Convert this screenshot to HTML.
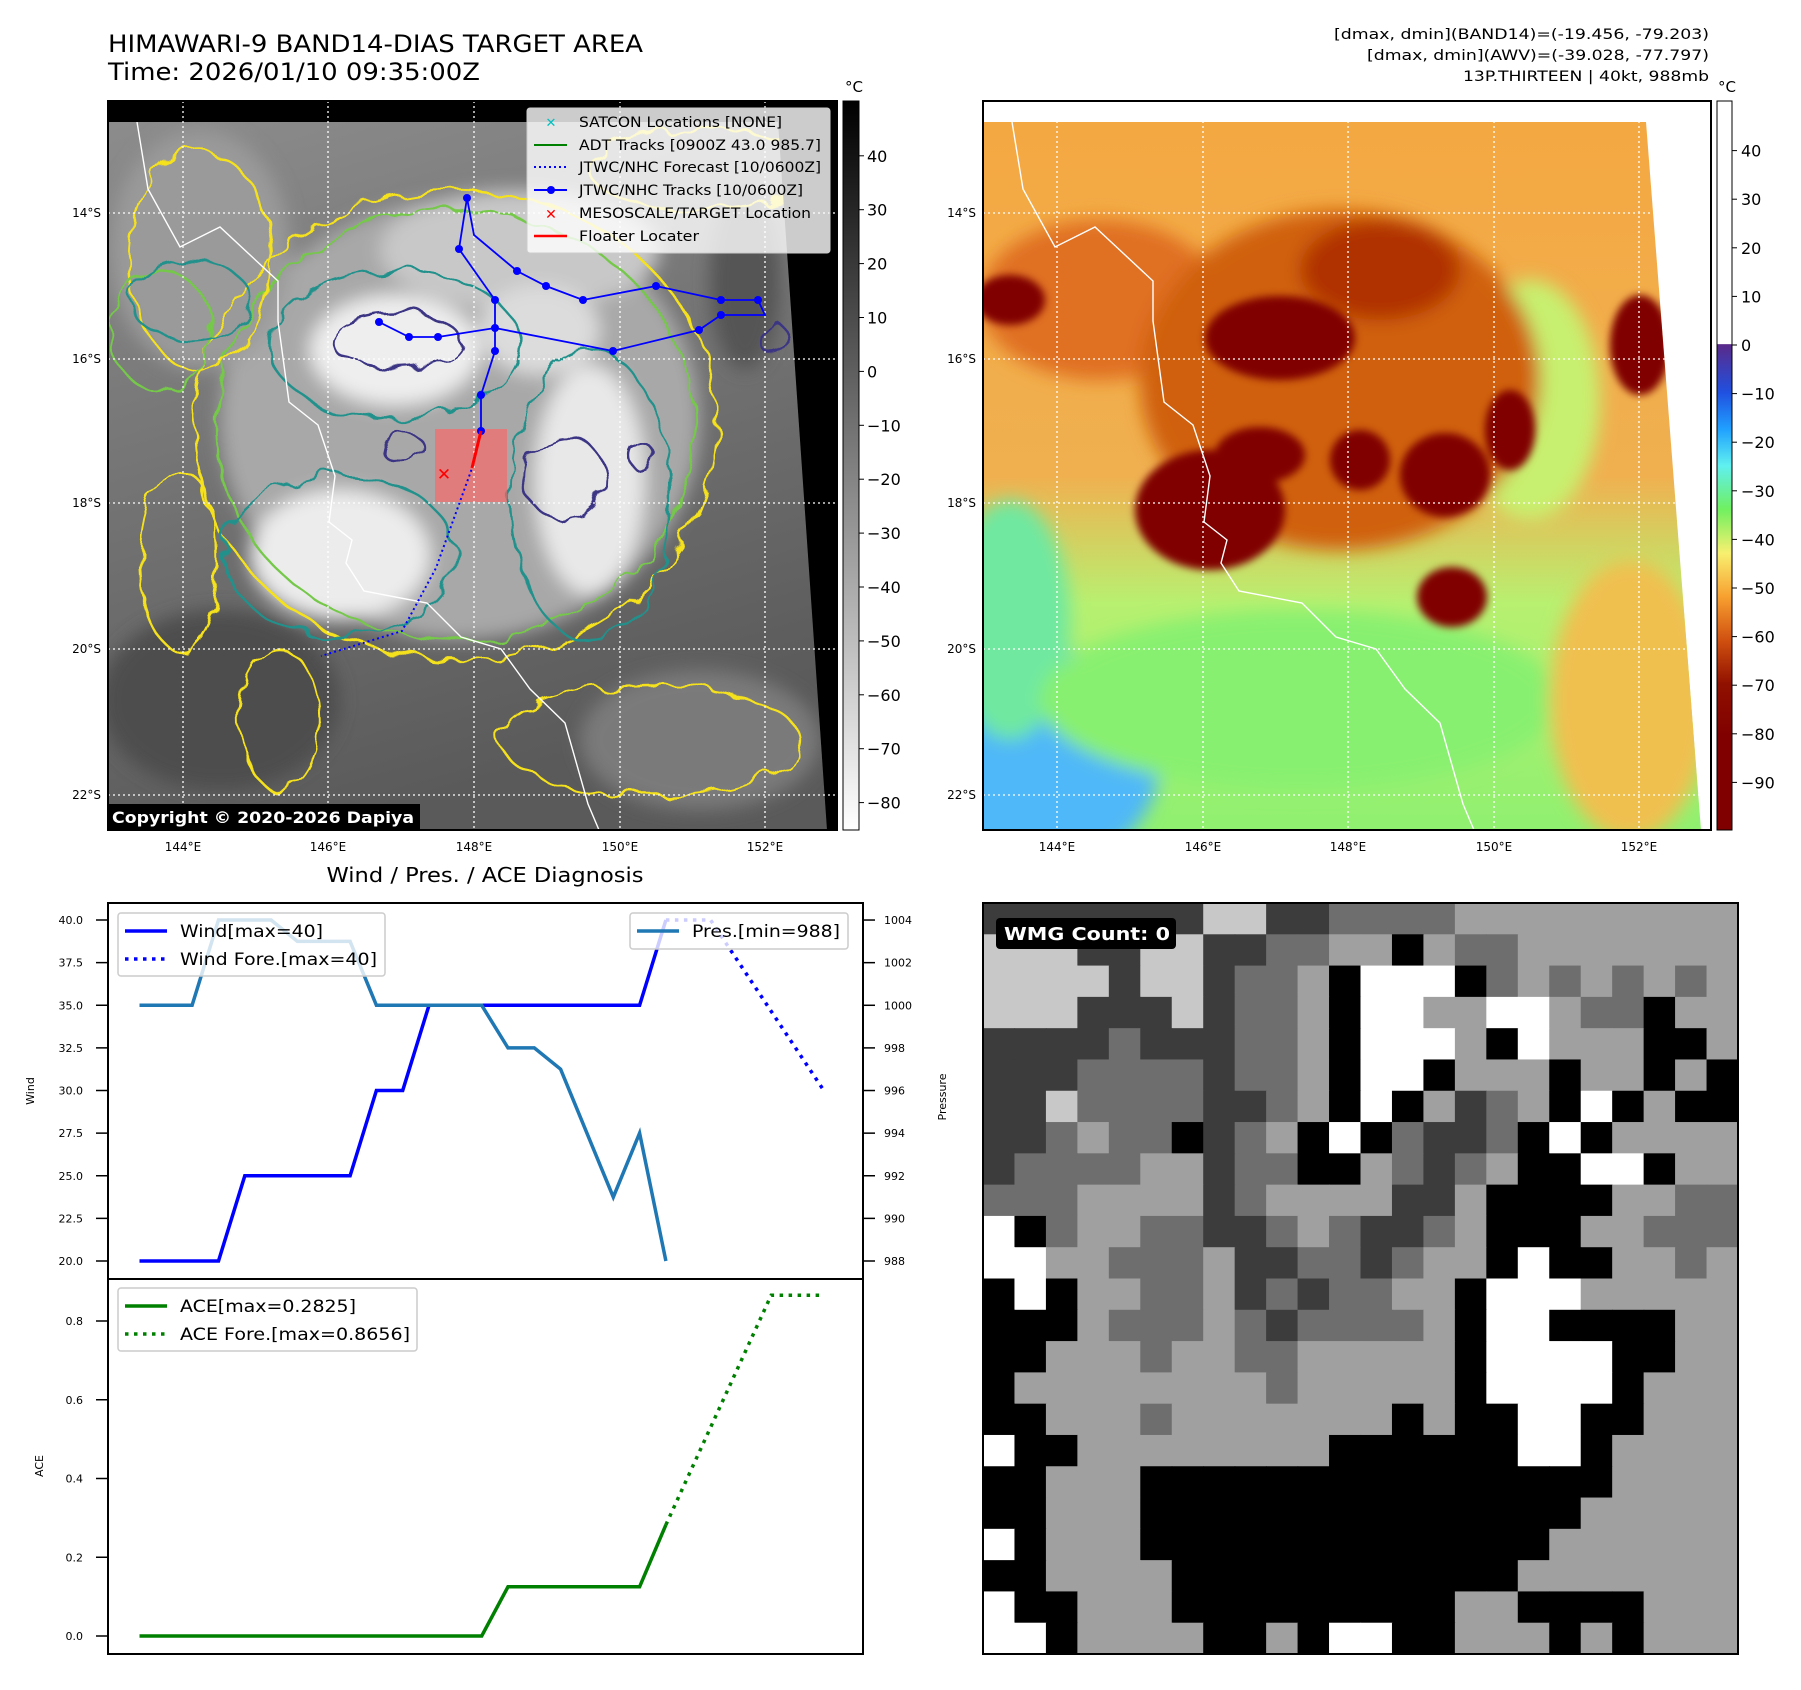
<!DOCTYPE html>
<html><head><meta charset="utf-8"><style>
html,body{margin:0;padding:0;background:#fff;}
svg{display:block;font-family:"DejaVu Sans","Liberation Sans",sans-serif;}
</style></head><body>
<svg id="fig" width="1801" height="1690" viewBox="0 0 1801 1690" xmlns="http://www.w3.org/2000/svg">
<defs>
<filter id="blur" x="-20%" y="-20%" width="140%" height="140%"><feGaussianBlur stdDeviation="9"/></filter>
<filter id="blur2"><feGaussianBlur stdDeviation="4"/></filter>
<filter id="wig" x="-10%" y="-10%" width="120%" height="120%"><feTurbulence type="fractalNoise" baseFrequency="0.035" numOctaves="2" seed="3"/><feDisplacementMap in="SourceGraphic" scale="22"/></filter>
<filter id="wig2" x="-10%" y="-10%" width="120%" height="120%"><feTurbulence type="fractalNoise" baseFrequency="0.05" numOctaves="3" seed="7"/><feDisplacementMap in="SourceGraphic" scale="30"/></filter>
<clipPath id="clipL"><path d="M108,122 L778,122 L827,830 L108,830 Z"/></clipPath>
<clipPath id="clipR"><path d="M983,122 L1646,122 L1701,830 L983,830 Z"/></clipPath>
<linearGradient id="cbL" x1="0" y1="0" x2="0" y2="1"><stop offset="0" stop-color="#000"/><stop offset="1" stop-color="#fff"/></linearGradient>
<linearGradient id="cbR" x1="0" y1="0" x2="0" y2="1">
<stop offset="0" stop-color="#fff"/><stop offset="0.333" stop-color="#fff"/><stop offset="0.334" stop-color="#5a2a8a"/>
<stop offset="0.4" stop-color="#2050e0"/><stop offset="0.45" stop-color="#20a0ff"/><stop offset="0.5" stop-color="#60f0f0"/>
<stop offset="0.56" stop-color="#70f060"/><stop offset="0.62" stop-color="#f8f070"/><stop offset="0.68" stop-color="#f8a030"/>
<stop offset="0.74" stop-color="#d05010"/><stop offset="0.8" stop-color="#901000"/><stop offset="0.87" stop-color="#800000"/><stop offset="1" stop-color="#800000"/></linearGradient>
<linearGradient id="grayBase" x1="0" y1="0" x2="0.3" y2="1"><stop offset="0" stop-color="#8c8c8c"/><stop offset="1" stop-color="#5a5a5a"/></linearGradient>
<linearGradient id="colBase" x1="0" y1="0" x2="0" y2="1"><stop offset="0" stop-color="#f4a842"/><stop offset="0.5" stop-color="#f0b050"/><stop offset="0.68" stop-color="#b8f070"/><stop offset="1" stop-color="#90f070"/></linearGradient>
</defs>

<!-- Titles -->
<text x="108" y="52" font-size="24" textLength="535" lengthAdjust="spacingAndGlyphs">HIMAWARI-9 BAND14-DIAS TARGET AREA</text>
<text x="108" y="80" font-size="24" textLength="372" lengthAdjust="spacingAndGlyphs">Time: 2026/01/10 09:35:00Z</text>
<g font-size="14.5" text-anchor="end">
<text x="1709" y="39" textLength="375" lengthAdjust="spacingAndGlyphs">[dmax, dmin](BAND14)=(-19.456, -79.203)</text>
<text x="1709" y="60" textLength="342" lengthAdjust="spacingAndGlyphs">[dmax, dmin](AWV)=(-39.028, -77.797)</text>
<text x="1709" y="81" textLength="246" lengthAdjust="spacingAndGlyphs">13P.THIRTEEN | 40kt, 988mb</text>
</g>

<!-- LEFT MAP -->
<g>
<rect x="108" y="101" width="729" height="729" fill="#000"/>
<g clip-path="url(#clipL)">
<rect x="108" y="122" width="729" height="708" fill="url(#grayBase)"/>
<g filter="url(#blur)">
<ellipse cx="460" cy="420" rx="240" ry="220" fill="#a8a8a8"/>
<ellipse cx="200" cy="250" rx="90" ry="120" fill="#9a9a9a"/>
<ellipse cx="520" cy="250" rx="140" ry="60" fill="#c8c8c8"/>
<ellipse cx="395" cy="350" rx="85" ry="55" fill="#eeeeee"/>
<ellipse cx="340" cy="555" rx="90" ry="65" fill="#ececec"/>
<ellipse cx="590" cy="480" rx="55" ry="115" fill="#e8e8e8"/>
<ellipse cx="540" cy="330" rx="60" ry="45" fill="#dcdcdc"/>
<ellipse cx="745" cy="280" rx="35" ry="90" fill="#555"/>
<ellipse cx="220" cy="700" rx="120" ry="90" fill="#4e4e4e"/>
<ellipse cx="700" cy="740" rx="120" ry="70" fill="#7a7a7a"/>
</g>
<g filter="url(#wig)" fill="none" stroke-width="2.4">
<ellipse cx="455" cy="425" rx="262" ry="235" stroke="#f6e21e"/>
<ellipse cx="455" cy="425" rx="240" ry="215" stroke="#74c84a"/>
<ellipse cx="200" cy="260" rx="70" ry="110" stroke="#f6e21e"/>
<ellipse cx="180" cy="560" rx="40" ry="90" stroke="#f6e21e"/>
<ellipse cx="700" cy="170" rx="110" ry="40" stroke="#f6e21e"/>
<ellipse cx="650" cy="740" rx="150" ry="55" stroke="#f6e21e"/>
<ellipse cx="280" cy="720" rx="40" ry="70" stroke="#f6e21e"/>
<ellipse cx="160" cy="330" rx="50" ry="60" stroke="#74c84a"/>
<ellipse cx="395" cy="345" rx="125" ry="75" stroke="#21918c"/>
<ellipse cx="340" cy="555" rx="115" ry="80" stroke="#21918c"/>
<ellipse cx="590" cy="495" rx="80" ry="145" stroke="#21918c"/>
<ellipse cx="190" cy="300" rx="60" ry="40" stroke="#21918c"/>
<ellipse cx="395" cy="340" rx="65" ry="28" stroke="#3b3584"/>
<ellipse cx="565" cy="478" rx="40" ry="42" stroke="#3b3584"/>
<ellipse cx="402" cy="447" rx="22" ry="14" stroke="#3b3584"/>
<ellipse cx="640" cy="455" rx="12" ry="14" stroke="#3b3584"/>
<ellipse cx="773" cy="338" rx="14" ry="16" stroke="#3b3584"/>
</g>
<path fill="none" stroke="#fff" stroke-width="1.4" transform="translate(-875,0)" d="M1012,122 L1023,189 L1055,247 L1095,227 L1153,281 L1153,321 L1164,402 L1193,425 L1210,476 L1204,522 L1227,540 L1221,563 L1239,591 L1302,603 L1336,637 L1376,649 L1405,689 L1440,723 L1463,804 L1474,830"/>
<rect x="435" y="429" width="72" height="73" fill="#ff6464" fill-opacity="0.65"/>
</g>
<g stroke="#fff" stroke-width="1.3" stroke-dasharray="2,3">
<line x1="108" y1="213" x2="837" y2="213"/><line x1="108" y1="359" x2="837" y2="359"/><line x1="108" y1="503" x2="837" y2="503"/><line x1="108" y1="649" x2="837" y2="649"/><line x1="108" y1="795" x2="837" y2="795"/>
<line x1="183" y1="101" x2="183" y2="830"/><line x1="328" y1="101" x2="328" y2="830"/><line x1="474" y1="101" x2="474" y2="830"/><line x1="620" y1="101" x2="620" y2="830"/><line x1="765" y1="101" x2="765" y2="830"/>
</g>
<g>
<polyline fill="none" stroke="#0000ff" stroke-width="1.8" points="379,322 409,337 438,337 495,328 613,351 699,330 721,315 765,315 758,300 721,300 656,286 583,300 546,286 517,271 474,235 467,198 459,249 495,300 495,328 495,351 481,395 481,431"/>
<g fill="#0000ff"><circle cx="379" cy="322" r="4"/><circle cx="409" cy="337" r="4"/><circle cx="438" cy="337" r="4"/><circle cx="495" cy="328" r="4"/><circle cx="613" cy="351" r="4"/><circle cx="699" cy="330" r="4"/><circle cx="721" cy="315" r="4"/><circle cx="758" cy="300" r="4"/><circle cx="721" cy="300" r="4"/><circle cx="656" cy="286" r="4"/><circle cx="583" cy="300" r="4"/><circle cx="546" cy="286" r="4"/><circle cx="517" cy="271" r="4"/><circle cx="467" cy="198" r="4"/><circle cx="459" cy="249" r="4"/><circle cx="495" cy="300" r="4"/><circle cx="495" cy="351" r="4"/><circle cx="481" cy="395" r="4"/><circle cx="481" cy="431" r="4"/></g>
</g>
<polyline fill="none" stroke="#0000ff" stroke-width="2" stroke-dasharray="2,3" points="481,431 471,471 436,568 402,631 321,656"/>
<line x1="481" y1="431" x2="472" y2="468" stroke="#ff0000" stroke-width="3"/>
<text x="444" y="480" font-size="17" font-weight="bold" fill="#ff0000" text-anchor="middle">✕</text>
<rect x="108" y="101" width="729" height="729" fill="none" stroke="#000" stroke-width="2"/>
<g font-size="14">
<rect x="527" y="108" width="303" height="145" rx="3" fill="#fff" fill-opacity="0.8" stroke="#ccc"/>
<text x="551" y="127" fill="#00c0c0" font-size="13" text-anchor="middle" font-weight="bold">✕</text>
<line x1="534" y1="145" x2="567" y2="145" stroke="#008000" stroke-width="2"/>
<line x1="534" y1="167" x2="567" y2="167" stroke="#0000ff" stroke-width="2" stroke-dasharray="2,3"/>
<line x1="534" y1="190" x2="567" y2="190" stroke="#0000ff" stroke-width="2"/><circle cx="551" cy="190" r="4" fill="#0000ff"/>
<text x="551" y="219" fill="#ff0000" font-size="14" text-anchor="middle" font-weight="bold">✕</text>
<line x1="534" y1="236" x2="567" y2="236" stroke="#ff0000" stroke-width="2.5"/>
<text x="579" y="127" textLength="203" lengthAdjust="spacingAndGlyphs">SATCON Locations [NONE]</text>
<text x="579" y="150" textLength="242" lengthAdjust="spacingAndGlyphs">ADT Tracks [0900Z 43.0 985.7]</text>
<text x="579" y="172" textLength="242" lengthAdjust="spacingAndGlyphs">JTWC/NHC Forecast [10/0600Z]</text>
<text x="579" y="195" textLength="224" lengthAdjust="spacingAndGlyphs">JTWC/NHC Tracks [10/0600Z]</text>
<text x="579" y="218" textLength="232" lengthAdjust="spacingAndGlyphs">MESOSCALE/TARGET Location</text>
<text x="579" y="241" textLength="120" lengthAdjust="spacingAndGlyphs">Floater Locater</text>
</g>
<g>
<rect x="108" y="804" width="312" height="26" fill="#000"/>
<text x="112" y="823" fill="#fff" font-size="16" font-weight="bold" textLength="302" lengthAdjust="spacingAndGlyphs">Copyright © 2020-2026 Dapiya</text>
</g>
</g>
<g font-size="12" text-anchor="end">
<text x="101" y="217">14°S</text><text x="101" y="363">16°S</text><text x="101" y="507">18°S</text><text x="101" y="653">20°S</text><text x="101" y="799">22°S</text>
</g>
<g font-size="12" text-anchor="middle">
<text x="183" y="851">144°E</text><text x="328" y="851">146°E</text><text x="474" y="851">148°E</text><text x="620" y="851">150°E</text><text x="765" y="851">152°E</text>
</g>
<g>
<rect x="843" y="101" width="16" height="729" fill="url(#cbL)" stroke="#000" stroke-width="1"/>
<text x="854" y="92" font-size="15" text-anchor="middle">°C</text>
<g font-size="16" id="cbLticks"></g>
</g>

<!-- RIGHT MAP -->
<g>
<rect x="983" y="101" width="728" height="729" fill="#fff"/>
<g clip-path="url(#clipR)">
<rect x="983" y="122" width="728" height="708" fill="url(#colBase)"/>
<g filter="url(#blur)">
<ellipse cx="1040" cy="760" rx="120" ry="110" fill="#50b8f8"/>
<ellipse cx="1010" cy="620" rx="60" ry="120" fill="#70e8a0"/>
<ellipse cx="1300" cy="700" rx="260" ry="90" fill="#88f070"/>
<ellipse cx="1630" cy="700" rx="80" ry="140" fill="#f0c050"/>
<ellipse cx="1530" cy="400" rx="70" ry="120" fill="#c8f070"/>
<ellipse cx="1100" cy="300" rx="120" ry="80" fill="#e07020"/>
<ellipse cx="1340" cy="380" rx="200" ry="170" fill="#d06010"/>
<ellipse cx="1380" cy="270" rx="80" ry="50" fill="#b03000"/>
</g>
<g filter="url(#blur2)" fill="#800000">
<ellipse cx="1280" cy="338" rx="75" ry="42"/>
<ellipse cx="1210" cy="510" rx="75" ry="60"/>
<ellipse cx="1260" cy="455" rx="45" ry="28"/>
<ellipse cx="1445" cy="475" rx="45" ry="42"/>
<ellipse cx="1452" cy="597" rx="35" ry="30"/>
<ellipse cx="1640" cy="345" rx="30" ry="50"/>
<ellipse cx="1510" cy="430" rx="25" ry="40"/>
<ellipse cx="1360" cy="460" rx="30" ry="30"/>
<ellipse cx="1010" cy="300" rx="35" ry="25"/>
</g>
<path fill="none" stroke="#fff" stroke-width="1.4" d="M1012,122 L1023,189 L1055,247 L1095,227 L1153,281 L1153,321 L1164,402 L1193,425 L1210,476 L1204,522 L1227,540 L1221,563 L1239,591 L1302,603 L1336,637 L1376,649 L1405,689 L1440,723 L1463,804 L1474,830"/>
</g>
<g stroke="#fff" stroke-width="1.3" stroke-dasharray="2,3">
<line x1="983" y1="213" x2="1711" y2="213"/><line x1="983" y1="359" x2="1711" y2="359"/><line x1="983" y1="503" x2="1711" y2="503"/><line x1="983" y1="649" x2="1711" y2="649"/><line x1="983" y1="795" x2="1711" y2="795"/>
<line x1="1057" y1="101" x2="1057" y2="830"/><line x1="1203" y1="101" x2="1203" y2="830"/><line x1="1348" y1="101" x2="1348" y2="830"/><line x1="1494" y1="101" x2="1494" y2="830"/><line x1="1639" y1="101" x2="1639" y2="830"/>
</g>
<rect x="983" y="101" width="728" height="729" fill="none" stroke="#000" stroke-width="2"/>
</g>
<g font-size="12" text-anchor="end">
<text x="976" y="217">14°S</text><text x="976" y="363">16°S</text><text x="976" y="507">18°S</text><text x="976" y="653">20°S</text><text x="976" y="799">22°S</text>
</g>
<g font-size="12" text-anchor="middle">
<text x="1057" y="851">144°E</text><text x="1203" y="851">146°E</text><text x="1348" y="851">148°E</text><text x="1494" y="851">150°E</text><text x="1639" y="851">152°E</text>
</g>
<g>
<rect x="1717" y="101" width="15" height="729" fill="url(#cbR)" stroke="#000" stroke-width="1"/>
<text x="1727" y="92" font-size="15" text-anchor="middle">°C</text>
<g font-size="16" id="cbRticks"></g>
</g>

<!-- BOTTOM LEFT CHART -->
<text x="485" y="882" font-size="20" text-anchor="middle" textLength="317" lengthAdjust="spacingAndGlyphs">Wind / Pres. / ACE Diagnosis</text>
<g id="chart"></g>
<text x="0" y="0" font-size="11" text-anchor="middle" transform="translate(34,1091) rotate(-90)">Wind</text>
<text x="0" y="0" font-size="11" text-anchor="middle" transform="translate(946,1097) rotate(-90)">Pressure</text>
<text x="0" y="0" font-size="11" text-anchor="middle" transform="translate(43,1466) rotate(-90)">ACE</text>

<!-- BOTTOM RIGHT WMG -->
<g id="wmg"></g>
</svg>
<script>
// ---- chart data ----
const windX = [0,1,2,3,4,5,6,7,8,9,10,11,12,13,14,15,16,17,18,19,20];
const windValues = [20,20,20,20,25,25,25,25,25,30,30,35,35,35,35,35,35,35,35,35,40];
const windForeX = [20,21.7,26];
const windForeValues = [40,40,30];
const presValues = [1000,1000,1000,1004,1004,1004,1003,1003,1003,1000,1000,1000,1000,1000,998,998,997,994,991,994,988];
const aceValues = [0,0,0,0,0,0,0,0,0,0,0,0,0,0,0.125,0.125,0.125,0.125,0.125,0.125,0.2825];
const aceForeX = [20,24,26];
const aceForeValues = [0.2825,0.8656,0.8656];
const windTicks = [20,22.5,25,27.5,30,32.5,35,37.5,40];
const presTicks = [988,990,992,994,996,998,1000,1002,1004];
const aceTicks = [0,0.2,0.4,0.6,0.8];
const cbLeftTicks = [40,30,20,10,0,-10,-20,-30,-40,-50,-60,-70,-80];
const cbRightTicks = [40,30,20,10,0,-10,-20,-30,-40,-50,-60,-70,-80,-90];

const NS='http://www.w3.org/2000/svg';
function mk(tag, attrs, parent){const e=document.createElementNS(NS,tag);for(const k in attrs)e.setAttribute(k,attrs[k]);parent.appendChild(e);return e;}
const xIdx = k => 139.5 + 26.32*k;
const yWind = v => 1261 - (v-20)*17.05;
const yPres = p => 1261 - (p-988)*21.31;
const yAce = a => 1636 - a*393.75;
const cbL = v => 371.4 - v*5.39;
const cbR = v => 345 - v*4.86;

// colorbar ticks
const gL=document.getElementById('cbLticks');
cbLeftTicks.forEach(v=>{
  const l=mk('line',{x1:859,x2:864,y1:cbL(v),y2:cbL(v),stroke:'#000'},gL);
  
  
  const t=mk('text',{x:867,y:cbL(v)+6},gL);t.textContent=(v<0?'−'+(-v):v);
  
  
});
const gR=document.getElementById('cbRticks');
cbRightTicks.forEach(v=>{
  const l=mk('line',{x1:1732,x2:1737,y1:cbR(v),y2:cbR(v),stroke:'#000'},gR);
  
  
  const t=mk('text',{x:1741,y:cbR(v)+6},gR);t.textContent=(v<0?'−'+(-v):v);
  
  
});

const g=document.getElementById('chart');
const pts=(xs,ys,fy)=>xs.map((x,i)=>xIdx(x).toFixed(1)+','+fy(ys[i]).toFixed(1)).join(' ');
// wind axes
windTicks.forEach(v=>{
  mk('line',{x1:96,x2:108,y1:yWind(v),y2:yWind(v),stroke:'#000','stroke-width':1.5},g);
  const t=mk('text',{x:83,y:yWind(v)+4,'font-size':11,'text-anchor':'end'},g);t.textContent=v.toFixed(1);
  
  
});
presTicks.forEach(v=>{
  mk('line',{x1:863,x2:875,y1:yPres(v),y2:yPres(v),stroke:'#000','stroke-width':1.5},g);
  const t=mk('text',{x:884,y:yPres(v)+4,'font-size':11},g);t.textContent=v;
  
  
});
aceTicks.forEach(v=>{
  mk('line',{x1:96,x2:108,y1:yAce(v),y2:yAce(v),stroke:'#000','stroke-width':1.5},g);
  const t=mk('text',{x:83,y:yAce(v)+4,'font-size':11,'text-anchor':'end'},g);t.textContent=v.toFixed(1);
  
  
});
let e;
e=mk('polyline',{points:pts(windX,windValues,yWind),fill:'none',stroke:'#0000ff','stroke-width':3.5},g);


e=mk('polyline',{points:pts(windForeX,windForeValues,yWind),fill:'none',stroke:'#0000ff','stroke-width':3.5,'stroke-dasharray':'3.5,5.5'},g);


e=mk('polyline',{points:pts(windX,presValues,yPres),fill:'none',stroke:'#1f77b4','stroke-width':3.5},g);


e=mk('polyline',{points:pts(windX,aceValues,yAce),fill:'none',stroke:'#008000','stroke-width':3.5},g);


e=mk('polyline',{points:pts(aceForeX,aceForeValues,yAce),fill:'none',stroke:'#008000','stroke-width':3.5,'stroke-dasharray':'3.5,5.5'},g);


// frames
mk('rect',{x:108,y:903,width:755,height:376,fill:'none',stroke:'#000','stroke-width':2},g);
mk('rect',{x:108,y:1279,width:755,height:375,fill:'none',stroke:'#000','stroke-width':2},g);
// legends
function legend(x,y,w,h,items,name){
  const lg=mk('g',{},g);
  
  
  mk('rect',{x:x,y:y,width:w,height:h,rx:3,fill:'#fff','fill-opacity':0.8,stroke:'#ccc','stroke-width':1.5},lg);
  items.forEach((it,i)=>{
    const cy=y+18+i*28;
    const a={x1:x+7,x2:x+49,y1:cy,y2:cy,stroke:it.c,'stroke-width':3.5};
    if(it.d)a['stroke-dasharray']='3.5,5.5';
    mk('line',a,lg);
    const t=mk('text',{x:x+62,y:cy+6,'font-size':17,textLength:it.w,lengthAdjust:'spacingAndGlyphs'},lg);t.textContent=it.t;
  });
}
legend(118,913,267,63,[{c:'#0000ff',t:'Wind[max=40]',w:143},{c:'#0000ff',t:'Wind Fore.[max=40]',w:197,d:1}],'wind-legend');
legend(630,913,218,36,[{c:'#1f77b4',t:'Pres.[min=988]',w:148}],'pressure-legend');
legend(118,1288,299,63,[{c:'#008000',t:'ACE[max=0.2825]',w:176},{c:'#008000',t:'ACE Fore.[max=0.8656]',w:230,d:1}],'ace-legend');

// ---- WMG image grid ----
const wmgRows = [
"DDDDDDDPPDDMMMMLLLLLLLLL","PPPDDPPDDMMLLKLMMLLLLLLL","PPPPDPPDMMLKWWWKMLMLMLML","PPPDDDPDMMLKWWLLWWLMMKLL",
"DDDDMDDDMMLKWWWLKWLLLKKL","DDDMMMMDMMLKWWKLLLKLLKLK","DDPMMMMDDMLKWKLDMLKWKLKK","DDMLMMKDMLKWKMDDMKWKLLLL",
"DMMMMLLDMMKKLMDMLKKWWKLL","MMMLLLLDMLLLLDDLKKKKLLMM","WKMLLMMDDMLMDDMLKKKLLMMM","WWLLMMMLDDMMDMLLKWKKLLML",
"KWKLLMMLDMDMMLLKWWWLLLLL","KKKLMMMLMDMMMMLKWWKKKKLL","KKLLLMLLMMLLLLLKWWWWKKLL","KLLLLLLLLMLLLLLKWWWWKLLL",
"KKLLLMLLLLLLLKLKKWWKKLLL","WKKLLLLLLLLKKKKKKWWKLLLL","KKLLLKKKKKKKKKKKKKKKLLLL","KKLLLKKKKKKKKKKKKKKLLLLL",
"WKLLLKKKKKKKKKKKKKLLLLLL","KKLLLLKKKKKKKKKKKLLLLLLL","WKKLLLKKKKKKKKKLLKKKKLLL","WWKLLLLKKLKWWKKLLLKLKLLL"];
const wmgColors = {K:'#000000',D:'#3c3c3c',M:'#6e6e6e',L:'#a0a0a0',P:'#c8c8c8',W:'#ffffff'};
const wg=document.getElementById('wmg');
const X0=983,Y0=903,W=755,H=751,cw=W/24,ch=H/24;
wmgRows.forEach((row,r)=>{
  for(let c=0;c<24;c++){
    const rc=mk('rect',{x:(X0+c*cw).toFixed(2),y:(Y0+r*ch).toFixed(2),width:(cw+0.6).toFixed(2),height:(ch+0.6).toFixed(2),fill:wmgColors[row[c]]},wg);
    
    
  }
});
mk('rect',{x:X0,y:Y0,width:W,height:H,fill:'none',stroke:'#000','stroke-width':2},wg);
const lb=mk('rect',{x:996,y:918,width:180,height:31,rx:4,fill:'#000'},wg);


const lt=mk('text',{x:1004,y:940,fill:'#fff','font-size':18,'font-weight':'bold',textLength:166,lengthAdjust:'spacingAndGlyphs'},wg);
lt.textContent='WMG Count: 0';


</script>
</body></html>
